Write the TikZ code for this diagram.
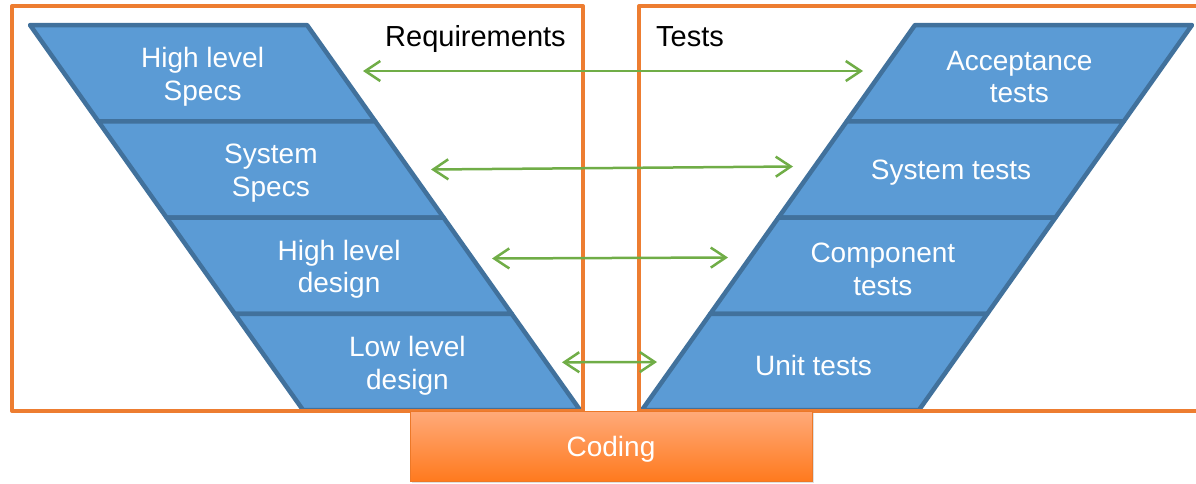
\documentclass[tikz,border=0pt]{standalone}
\usepackage{fontspec}
\setmainfont{Liberation Sans}
\usetikzlibrary{arrows.meta,shadows}

\definecolor{vorange}{RGB}{237,125,49}
\definecolor{vblue}{RGB}{91,155,213}
\definecolor{vblueedge}{RGB}{65,113,156}
\definecolor{vgreen}{RGB}{112,173,71}
\definecolor{codetop}{RGB}{255,170,122}
\definecolor{codebot}{RGB}{255,122,30}
\definecolor{codeedge}{RGB}{236,120,40}

\tikzset{
  band/.style={fill=vblue, draw=vblueedge, line width=4.5pt, line join=round},
  bandlabel/.style={text=white, font=\fontsize{28}{32.5}\selectfont, align=center, inner sep=0pt},
  frame/.style={draw=vorange, line width=4pt, line join=round},
  link/.style={draw=vgreen, line width=2.5pt,
    {Straight Barb[length=15pt,width=20pt]}-{Straight Barb[length=15pt,width=20pt]}},
  header/.style={font=\fontsize{29}{33}\selectfont, text=black, inner sep=0pt, anchor=base west},
  codebox/.style={top color=codetop, bottom color=codebot, draw=codeedge, line width=0.8pt,
    minimum width=402pt, minimum height=70pt, text=white, font=\fontsize{28}{33}\selectfont,
    drop shadow={opacity=0.25, shadow xshift=2pt, shadow yshift=-2pt}},
}

\begin{document}
\begin{tikzpicture}[x=1pt, y=-1pt]
\useasboundingbox (0,0) rectangle (1196,483);

% requirements side: four slanted bands
\draw[band] (30,25) -- (307,25) -- (375.2,121.25) -- (98.2,121.25) -- cycle;
\draw[band] (98.2,121.25) -- (375.2,121.25) -- (443.5,217.5) -- (166.5,217.5) -- cycle;
\draw[band] (166.5,217.5) -- (443.5,217.5) -- (511.7,313.75) -- (234.7,313.75) -- cycle;
\draw[band] (234.7,313.75) -- (511.7,313.75) -- (580,410) -- (303,410) -- cycle;

% test side: four slanted bands
\draw[band] (915,25) -- (1192,25) -- (1123.8,121.25) -- (846.8,121.25) -- cycle;
\draw[band] (846.8,121.25) -- (1123.8,121.25) -- (1055.5,217.5) -- (778.5,217.5) -- cycle;
\draw[band] (778.5,217.5) -- (1055.5,217.5) -- (987.3,313.75) -- (710.3,313.75) -- cycle;
\draw[band] (710.3,313.75) -- (987.3,313.75) -- (919,410) -- (642,410) -- cycle;

% band labels
\node[bandlabel] (hls) at (202.6,77) {High level\\Specs};
\node[bandlabel] (ss)  at (270.9,173.3) {System\\Specs};
\node[bandlabel] (hld) at (339.1,269.5) {High level\\design};
\node[bandlabel] (lld) at (407.4,365.8) {Low level\\design};

\node[bandlabel] (at) at (1019.4,77) {Acceptance\\tests};
\node[bandlabel] (st) at (951.1,172.6) {System tests};
\node[bandlabel] (ct) at (882.9,269.5) {Component\\tests};
\node[bandlabel] (ut) at (813.5,365.1) {Unit tests};

% frames
\draw[frame] (12,6) rectangle (583,411);
\draw[frame] (1200,6) -- (639,6) -- (639,411) -- (1200,411);

% coding block
\node[codebox] (coding) at (611,446) {};
\node[text=white, font=\fontsize{28}{33}\selectfont, inner sep=0pt] (codingtext) at (611,449.5) {Coding};

% headers
\node[header] (req) at (385,46) {Requirements};
\node[header] (tests) at (656,46) {Tests};

% verification links
\coordinate (l1) at (363,71);    \coordinate (r1) at (863,71);
\coordinate (l2) at (431,169.5); \coordinate (r2) at (793,166.5);
\coordinate (l3) at (492,258.5); \coordinate (r3) at (728,257.5);
\coordinate (l4) at (562,362.3); \coordinate (r4) at (657,362);

\draw[link] (l1) -- (r1);
\draw[link] (l2) -- (r2);
\draw[link] (l3) -- (r3);
\draw[link] (l4) -- (r4);
\end{tikzpicture}
\end{document}
